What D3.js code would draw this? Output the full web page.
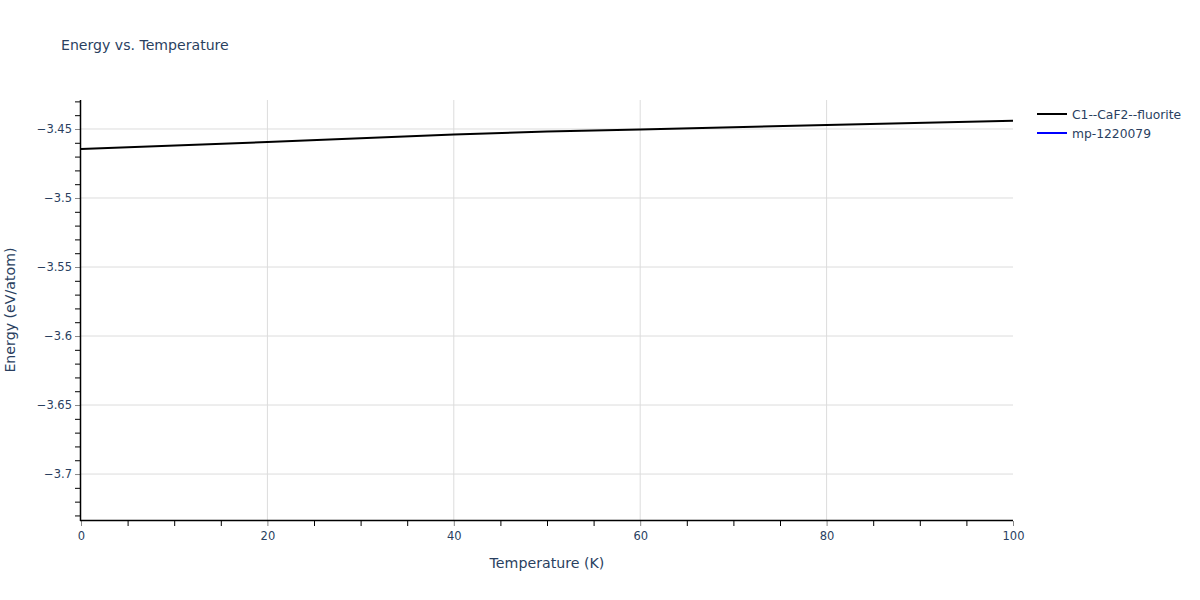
<!DOCTYPE html>
<html>
<head>
<meta charset="utf-8">
<script src="https://cdn.jsdelivr.net/npm/d3@7"></script>
<style>
  body { margin: 0; background: #fff; }
  text { font-family: "DejaVu Sans", Verdana, sans-serif; fill: #2a3f5f; }
</style>
</head>
<body>
<svg width="1200" height="600"></svg>
<script>
// data
const temps = [0, 20, 40, 50, 60, 80, 100];
const fluoriteEnergy = [-3.4645, -3.4594, -3.454, -3.4518, -3.4504, -3.4471, -3.444];
const mpTemps = [];
const mpEnergy = [];
const seriesNames = ["C1--CaF2--fluorite", "mp-1220079"];
const seriesColors = ["#000000", "#0000ff"];
const xTicks = [0, 20, 40, 60, 80, 100];
const yTicks = [-3.45, -3.5, -3.55, -3.6, -3.65, -3.7];

const svg = d3.select("svg");
const plotL = 81, plotR = 1013, plotT = 100, plotB = 520;
const font = "'DejaVu Sans', Verdana, sans-serif";

const x = d3.scaleLinear().domain([0, 100]).range([plotL, plotR]);
const y = d3.scaleLinear().domain([-3.7333, -3.429]).range([plotB, plotT]);

svg.append("text")
  .attr("x", 61).attr("y", 50)
  .style("font-size", "14.1px")
  .text("Energy vs. Temperature");

// grid
const grid = svg.append("g");
grid.selectAll(".gx").data(xTicks.filter(d => d > 0 && d < 100)).enter()
  .append("line")
  .attr("x1", d => x(d)).attr("x2", d => x(d))
  .attr("y1", plotT).attr("y2", plotB)
  .attr("stroke", "#dcdcdc").attr("stroke-width", 1);
grid.selectAll(".gy").data(yTicks).enter()
  .append("line")
  .attr("x1", plotL).attr("x2", plotR)
  .attr("y1", d => y(d)).attr("y2", d => y(d))
  .attr("stroke", "#dcdcdc").attr("stroke-width", 1);

// minor ticks
const xMinor = d3.range(0, 100.1, 5).filter(d => d % 20 !== 0);
const yMinor = d3.range(-3.73, -3.429, 0.01).filter(v => !yTicks.some(t => Math.abs(t - v) < 1e-6));

const xAxis = svg.append("g").attr("transform", "translate(0," + (plotB + 1) + ")");
xAxis.call(d3.axisBottom(x).tickValues(xMinor).tickSize(5).tickFormat(""))
  .call(g => g.select(".domain").remove())
  .call(g => g.selectAll("line").attr("stroke", "#000"));
xAxis.append("g")
  .call(d3.axisBottom(x).tickValues(xTicks).tickSize(5).tickPadding(6).tickFormat(d3.format("d")))
  .call(g => g.select(".domain").remove())
  .call(g => g.selectAll("line").attr("stroke", "#888"))
  .call(g => g.selectAll("text").style("font-size", "11.5px").attr("fill", "#2a3f5f")
    .style("font-family", font));

const yAxis = svg.append("g").attr("transform", "translate(" + (plotL - 1) + ",0)");
yAxis.call(d3.axisLeft(y).tickValues(yMinor).tickSize(5).tickFormat(""))
  .call(g => g.select(".domain").remove())
  .call(g => g.selectAll("line").attr("stroke", "#000"));
yAxis.append("g")
  .call(d3.axisLeft(y).tickValues(yTicks).tickSize(5).tickPadding(3)
    .tickFormat(d => d3.format("")(+d.toFixed(2)).replace("-", "\u2212")))
  .call(g => g.select(".domain").remove())
  .call(g => g.selectAll("line").attr("stroke", "#888"))
  .call(g => g.selectAll("text").style("font-size", "11.5px").attr("fill", "#2a3f5f")
    .style("font-family", font));

// axis lines
svg.append("line").attr("x1", plotL - 1).attr("x2", plotR).attr("y1", plotB + 0.5).attr("y2", plotB + 0.5)
  .attr("stroke", "#000").attr("stroke-width", 1.5);
svg.append("line").attr("x1", plotL - 0.5).attr("x2", plotL - 0.5).attr("y1", plotT).attr("y2", plotB + 1)
  .attr("stroke", "#000").attr("stroke-width", 1.5);

// lines
const line = d3.line().x(d => x(d[0])).y(d => y(d[1]));
const plot = svg.append("g");
plot.append("path")
  .datum(d3.zip(mpTemps, mpEnergy))
  .attr("d", d => d.length ? line(d) : null)
  .attr("fill", "none").attr("stroke", seriesColors[1]).attr("stroke-width", 2);
plot.append("path")
  .datum(d3.zip(temps, fluoriteEnergy))
  .attr("d", line)
  .attr("fill", "none").attr("stroke", seriesColors[0]).attr("stroke-width", 2);

// axis titles
svg.append("text")
  .attr("x", (plotL + plotR) / 2).attr("y", 568)
  .attr("text-anchor", "middle").style("font-size", "14.2px")
  .text("Temperature (K)");
svg.append("text")
  .attr("transform", "translate(15," + (plotT + plotB) / 2 + ") rotate(-90)")
  .attr("text-anchor", "middle").style("font-size", "14.2px")
  .text("Energy (eV/atom)");

// legend
const legend = svg.append("g").attr("transform", "translate(1037,114)");
const item = legend.selectAll("g").data(seriesNames).enter()
  .append("g").attr("transform", (d, i) => "translate(0," + i * 19 + ")");
item.append("line").attr("x1", 0).attr("x2", 30).attr("y1", 0).attr("y2", 0)
  .attr("stroke", (d, i) => seriesColors[i]).attr("stroke-width", 2);
item.append("text").attr("x", 35).attr("y", 4.5).style("font-size", "12.3px").text(d => d);
</script>
</body>
</html>
